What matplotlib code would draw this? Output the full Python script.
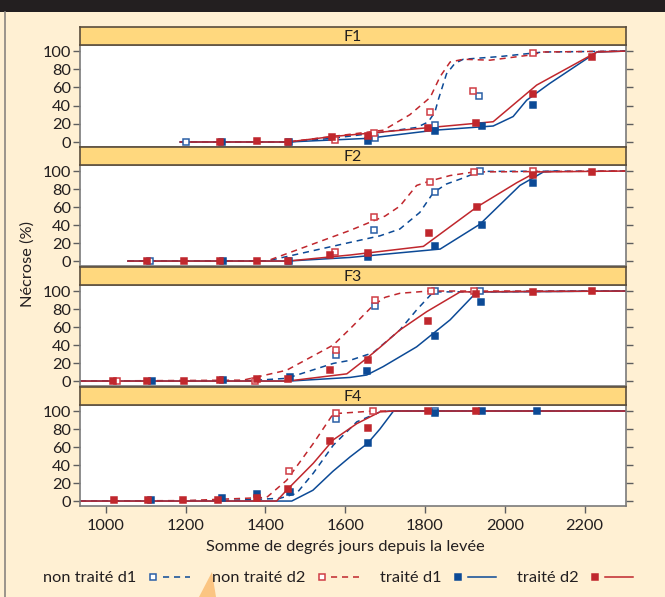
import matplotlib
matplotlib.use("Agg")
import matplotlib.pyplot as plt
from matplotlib.lines import Line2D
from matplotlib.patches import Rectangle, Polygon
from matplotlib.legend_handler import HandlerBase

plt.rcParams['font.family'] = ['Lato', 'DejaVu Sans']

# --- data (x = degree-days, y = necrosis %) ---
panel_names = ["F1", "F2", "F3", "F4"]
series_labels = ["non traité d1", "non traité d2", "traité d1", "traité d2"]
x_ticks = [1000, 1200, 1400, 1600, 1800, 2000, 2200]
y_ticks = [0, 20, 40, 60, 80, 100]

# F1 observations
f1_nt_d1_pts = [(1201, 0), (1674, 4), (1825, 18.6), (1935, 50.5)]
f1_nt_d2_pts = [(1574, 2), (1672, 10), (1813, 33), (1920, 56), (2071, 97.5)]
f1_t_d1_pts = [(1291, 0), (1458, 0), (1656, 1.5), (1825, 12), (1943, 17.6), (2070, 41)]
f1_t_d2_pts = [(1286, 0), (1378, 1.4), (1456, 0), (1566, 5.5), (1656, 6.6), (1807, 15.7),
               (1928, 21), (2070, 53), (2219, 94)]
# F1 fitted curves
f1_nt_d1_fit = [(1186, 0), (1456, 0), (1566, 4), (1696, 11), (1779, 16), (1808, 22), (1825, 33),
                (1833, 46), (1854, 75), (1875, 86.5), (1896, 91), (1988, 94), (2097, 99), (2304, 100)]
f1_nt_d2_fit = [(1186, 0), (1456, 0), (1566, 6), (1696, 13), (1762, 30), (1813, 49), (1838, 72),
                (1863, 88), (1896, 91), (1963, 90), (2063, 95.6), (2097, 99), (2304, 100)]
f1_t_d1_fit = [(1186, 0), (1456, 0), (1656, 4), (1825, 13), (1971, 17.6), (2021, 28), (2055, 46),
               (2113, 64.5), (2231, 99), (2304, 100)]
f1_t_d2_fit = [(1186, 0), (1456, 0), (1566, 5.9), (1656, 9.5), (1807, 15.7), (1971, 22.3),
               (2080, 62.6), (2231, 99), (2304, 100)]

# F2 observations
f2_nt_d1_pts = [(1110, 0), (1672, 34), (1825, 77), (1938, 99.6)]
f2_nt_d2_pts = [(1574, 9.6), (1673, 49), (1813, 88), (1923, 99), (2070, 100)]
f2_t_d1_pts = [(1293, 0), (1458, 0), (1658, 4.8), (1825, 16.7), (1943, 40), (2070, 87)]
f2_t_d2_pts = [(1102, 0), (1196, 0), (1286, 0), (1378, 0), (1456, 0), (1563, 6.7), (1657, 8.9),
               (1810, 31.5), (1930, 60), (2072, 95.6), (2219, 99)]
# F2 fitted curves
f2_nt_d1_fit = [(1055, 0), (1403, 0), (1612, 20.7), (1687, 28), (1737, 35.6), (1787, 54),
                (1821, 76), (1854, 85.6), (1888, 91), (1938, 99.6), (2304, 100)]
f2_nt_d2_fit = [(1055, 0), (1403, 0), (1612, 34), (1700, 50), (1737, 61), (1779, 84), (1813, 89),
                (1863, 95), (1923, 99), (2304, 100)]
f2_t_d1_fit = [(1055, 0), (1456, 0), (1612, 4), (1838, 13.3), (1938, 41), (2038, 84), (2097, 99),
               (2131, 100)]
f2_t_d2_fit = [(1055, 0), (1456, 0), (1612, 6.7), (1796, 16.3), (1930, 60), (2030, 87), (2080, 99),
               (2304, 100)]

# F3 observations
f3_nt_d1_pts = [(1576, 28.5), (1675, 83), (1826, 100), (1938, 100)]
f3_nt_d2_pts = [(1028, 0.4), (1375, 0), (1576, 35), (1675, 90), (1814, 100), (1923, 100)]
f3_t_d1_pts = [(1115, 0.4), (1293, 1), (1461, 4), (1654, 11.5), (1825, 50), (1940, 88)]
f3_t_d2_pts = [(1018, 0), (1102, 0.4), (1196, 0), (1286, 1), (1378, 2.6), (1456, 2.6), (1562, 12),
               (1656, 23.7), (1807, 67), (1928, 96.7), (2072, 99), (2219, 100)]
# F3 fitted curves
f3_nt_d1_fit = [(935, 0), (1344, 0), (1453, 3), (1570, 19.6), (1612, 23), (1670, 31.5),
                (1737, 56.7), (1779, 79), (1821, 99), (2304, 100)]
f3_nt_d2_fit = [(935, 0), (1344, 1), (1453, 12), (1570, 40), (1612, 58), (1670, 84), (1700, 93),
                (1737, 97.5), (1810, 100), (2304, 100)]
f3_t_d1_fit = [(935, 0), (1461, 0), (1612, 4), (1654, 6.7), (1695, 16), (1779, 38), (1863, 68),
               (1930, 99), (2304, 100)]
f3_t_d2_fit = [(935, 0), (1456, 0), (1604, 8), (1656, 26), (1687, 37.4), (1737, 56.7), (1804, 77),
               (1888, 99), (2304, 100)]

# F4 observations
f4_nt_d1_pts = [(1576, 91), (1825, 100)]
f4_nt_d2_pts = [(1459, 33.7), (1576, 97.4), (1670, 99.6)]
f4_t_d1_pts = [(1113, 1), (1292, 3.7), (1378, 7.8), (1461, 10.4), (1656, 64), (1825, 98),
               (1943, 100), (2080, 100)]
f4_t_d2_pts = [(1020, 1), (1106, 1), (1194, 1), (1282, 1), (1378, 3.7), (1457, 13), (1562, 67),
               (1656, 81.5), (1807, 100), (1928, 100)]
# F4 fitted curves
f4_nt_d1_fit = [(935, 0), (1300, 0.5), (1436, 3), (1478, 8.5), (1520, 31), (1570, 62), (1629, 88),
                (1687, 99), (1712, 100), (2304, 100)]
f4_nt_d2_fit = [(935, 0), (1200, 0.5), (1403, 4), (1453, 23), (1520, 64), (1570, 97), (1670, 100),
                (2304, 100)]
f4_t_d1_fit = [(935, 0), (1466, 0), (1519, 12), (1569, 33), (1612, 49), (1656, 64), (1687, 80),
               (1721, 100), (2304, 100)]
f4_t_d2_fit = [(935, 0), (1428, 0), (1453, 12), (1520, 42), (1570, 68), (1629, 86), (1687, 99),
               (1720, 100), (2304, 100)]

panel_pts = [
    [f1_nt_d1_pts, f1_nt_d2_pts, f1_t_d1_pts, f1_t_d2_pts],
    [f2_nt_d1_pts, f2_nt_d2_pts, f2_t_d1_pts, f2_t_d2_pts],
    [f3_nt_d1_pts, f3_nt_d2_pts, f3_t_d1_pts, f3_t_d2_pts],
    [f4_nt_d1_pts, f4_nt_d2_pts, f4_t_d1_pts, f4_t_d2_pts],
]
panel_fits = [
    [f1_nt_d1_fit, f1_nt_d2_fit, f1_t_d1_fit, f1_t_d2_fit],
    [f2_nt_d1_fit, f2_nt_d2_fit, f2_t_d1_fit, f2_t_d2_fit],
    [f3_nt_d1_fit, f3_nt_d2_fit, f3_t_d1_fit, f3_t_d2_fit],
    [f4_nt_d1_fit, f4_nt_d2_fit, f4_t_d1_fit, f4_t_d2_fit],
]

# --- styles ---
BLUE = '#0c4a96'
RED = '#c0272d'
BG = '#fff0d3'
STRIP = '#ffd87e'
TXT = '#231f20'
DASH = (0, (4, 3.2))
styles = [
    dict(color=BLUE, ls=DASH, mfc='white', mec='#2a5fa6'),
    dict(color=RED, ls=DASH, mfc='white', mec='#cf3d45'),
    dict(color=BLUE, ls='-', mfc=BLUE, mec=BLUE),
    dict(color=RED, ls='-', mfc=RED, mec=RED),
]

W, H = 665, 597
fig = plt.figure(figsize=(W / 100, H / 100), dpi=100, facecolor=BG)

# page decoration: dark header band, left rule, orange pointer
fig.patches.append(Rectangle((0, 1 - 12 / H), 1, 12 / H, transform=fig.transFigure,
                             facecolor='#231f20', edgecolor='none', zorder=0))
fig.add_artist(Line2D([5 / W, 5 / W], [0, 1 - 12 / H], transform=fig.transFigure,
                      color='#8a8580', lw=1.2))
fig.patches.append(Polygon([(199 / W, 0), (212 / W, 25 / H), (216 / W, 0)], closed=True,
                           transform=fig.transFigure, facecolor='#fbc582', edgecolor='none'))

left, right = 80, 626
plot_top = [45, 165, 285, 405]
plot_bot = [147, 266, 386, 506]
strip_h = 18


def fx(px):
    return px / W


def fy(py):
    return 1 - py / H


for i, name in enumerate(panel_names):
    b = fy(plot_bot[i])
    h = (plot_bot[i] - plot_top[i]) / H
    ax = fig.add_axes([fx(left), b, (right - left) / W, h], facecolor='white')
    sax = fig.add_axes([fx(left), b + h, (right - left) / W, strip_h / H], facecolor=STRIP)
    sax.set_xticks([])
    sax.set_yticks([])
    for s in sax.spines.values():
        s.set_color('#5a4d3c')
        s.set_linewidth(1.2)
    sax.text(0.5, 0.47, name, ha='center', va='center', fontsize=11.5, color=TXT,
             transform=sax.transAxes)

    for k in range(4):
        st = styles[k]
        fit = panel_fits[i][k]
        ax.plot([p[0] for p in fit], [p[1] for p in fit], color=st['color'], ls=st['ls'],
                lw=1.1, zorder=2)
    for k in range(4):
        st = styles[k]
        pts = panel_pts[i][k]
        ax.plot([p[0] for p in pts], [p[1] for p in pts], ls='none', marker='s', ms=4.6,
                mfc=st['mfc'], mec=st['mec'], mew=1.1, zorder=3)

    ax.set_xlim(935, 2304)
    ax.set_ylim(-5.5, 106.7)
    ax.set_yticks(y_ticks)
    ax.set_xticks(x_ticks)
    ax.tick_params(axis='y', which='both', left=True, right=True, direction='out', length=5,
                   width=1, color='#5e5e5e', labelsize=11.8, labelcolor=TXT, pad=1.5)
    if i == 3:
        ax.tick_params(axis='x', direction='out', length=5, width=1, color='#5e5e5e',
                       labelsize=11.8, labelcolor=TXT, pad=4.5)
        ax.set_xlabel("Somme de degrés jours depuis la levée", fontsize=11.8, color=TXT)
        ax.xaxis.set_label_coords((345 - left) / (right - left), -41 / (plot_bot[i] - plot_top[i]))
        ax.xaxis.label.set_va('center')
    else:
        ax.tick_params(axis='x', bottom=False, labelbottom=False)
    for s in ax.spines.values():
        s.set_color('#7a7a7a')
        s.set_linewidth(1.2)

fig.text(fx(28), fy(264), "Nécrose (%)", rotation=90, ha='center', va='center',
         fontsize=11.8, color=TXT)


class MarkerThenLine(HandlerBase):
    def create_artists(self, legend, orig, xdescent, ydescent, width, height, fontsize, trans):
        y = height / 2 - ydescent
        x0 = -xdescent
        mk = Line2D([x0 + 4], [y])
        mk.update_from(orig)
        mk.set_linestyle('none')
        mk.set_transform(trans)
        ln = Line2D([x0 + 11, x0 + width], [y, y])
        ln.update_from(orig)
        ln.set_marker('none')
        ln.set_transform(trans)
        return [mk, ln]


handles = []
for k in range(4):
    st = styles[k]
    handles.append(Line2D([], [], color=st['color'], ls=st['ls'], lw=1.1, marker='s', ms=4,
                          mfc=st['mfc'], mec=st['mec'], mew=1.1))
leg = fig.legend(handles, series_labels, loc='center', bbox_to_anchor=(fx(338), fy(578)),
                 ncol=4, frameon=False, markerfirst=False, fontsize=11.8,
                 handlelength=2.62, handletextpad=0.67, columnspacing=1.3,
                 handler_map={Line2D: MarkerThenLine()})
for t in leg.get_texts():
    t.set_color(TXT)

fig.savefig("out.png", dpi=100, facecolor=BG)
